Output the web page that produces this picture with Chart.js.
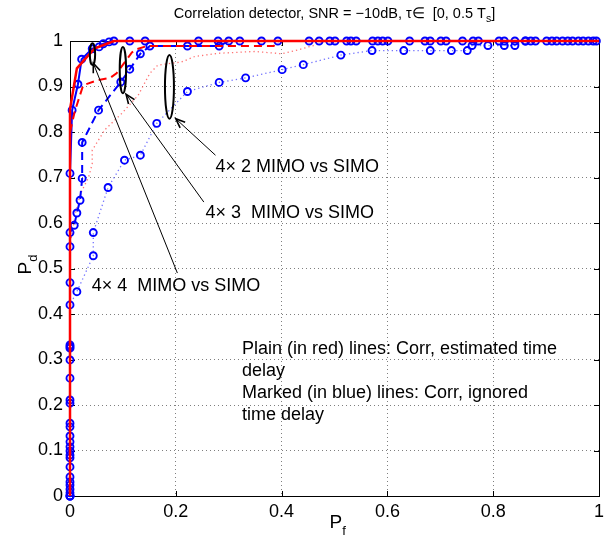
<!DOCTYPE html>
<html><head><meta charset="utf-8">
<script src="https://cdn.jsdelivr.net/npm/chart.js@4/dist/chart.umd.min.js"></script>
<style>html,body{margin:0;padding:0;background:#fff}#wrap{width:613px;height:544px}</style>
</head><body><div id="wrap"><canvas id="c" width="613" height="544"></canvas></div>
<script>
// ---- tick labels ----
const xTickLabels = ['0','0.2','0.4','0.6','0.8','1'];
const yTickLabels = ['0','0.1','0.2','0.3','0.4','0.5','0.6','0.7','0.8','0.9','1'];

// ---- series (Pf, Pd) ----
// Plain red lines: correlation with estimated time delay
const red4x4 = [[0,0],[0,0.85],[0.013,0.94],[0.035,0.969],[0.047,0.984],[0.072,0.995],[0.083,1],[1,1]];
const red4x3 = [[0,0],[0,0.80],[0.009,0.845],[0.025,0.903],[0.053,0.914],[0.076,0.919],[0.088,0.929],[0.104,0.954],[0.117,0.975],[0.126,0.982],[0.146,0.989],[0.385,0.989],[0.395,1],[1,1]];
const red4x2 = [[0,0],[0,0.55],[0.01,0.62],[0.02,0.665],[0.035,0.70],[0.042,0.73],[0.042,0.76],[0.066,0.805],[0.098,0.841],[0.129,0.881],[0.151,0.929],[0.166,0.947],[0.211,0.954],[0.236,0.966],[0.28,0.973],[0.35,0.977],[0.40,0.972],[0.43,0.98],[0.46,0.99],[0.48,1],[1,1]];
// Marked blue lines: correlation ignoring time delay
const blue4x4 = [[0,0],[0,0.007],[0,0.031],[0,0.084],[0,0.099],[0,0.132],[0,0.325],[0,0.709],[0.004,0.848],[0.015,0.905],[0.022,0.96],[0.042,0.983],[0.055,0.987],[0.063,0.994],[0.074,0.998],[0.083,1],
  [0.113,1],[0.142,1],[0.243,1],[0.28,1],[0.321,1],[0.362,1],[0.393,1],[0.452,1],[0.471,1],[0.491,1],[0.501,1],[0.523,1],[0.531,1],[0.541,1],[0.572,1],[0.582,1],[0.591,1],[0.601,1],[0.642,1],[0.671,1],[0.681,1],[0.701,1],[0.711,1],[0.742,1],[0.762,1],[0.772,1],[0.811,1],[0.821,1],[0.841,1],[0.861,1],[0.871,1],[0.88,1],[0.901,1],[0.911,1],[0.92,1],[0.931,1],[0.941,1],[0.95,1],[0.961,1],[0.97,1],[0.98,1],[0.989,1],[0.995,1]];
const blue4x3 = [[0,0],[0,0.015],[0,0.042],[0,0.090],[0,0.119],[0,0.160],[0,0.204],[0,0.259],[0,0.332],[0,0.469],[0,0.548],[0,0.579],[0.008,0.595],[0.013,0.622],[0.019,0.65],[0.023,0.698],[0.023,0.777],[0.054,0.848],[0.096,0.91],[0.113,0.938],[0.133,0.972],[0.151,0.989],[0.222,0.989],[0.282,0.989],[0.30,1]];
const blue4x2 = [[0,0],[0,0.024],[0,0.064],[0,0.108],[0,0.152],[0,0.211],[0,0.299],[0,0.328],[0,0.42],[0.013,0.449],[0.044,0.528],[0.044,0.579],[0.072,0.678],[0.103,0.738],[0.133,0.749],[0.164,0.819],[0.222,0.889],[0.282,0.909],[0.332,0.919],[0.401,0.937],[0.441,0.948],[0.512,0.969],[0.571,0.979],[0.631,0.979],[0.681,0.979],[0.721,0.979],[0.751,0.979],[0.76,0.99],[0.79,0.99],[0.821,0.99],[0.841,0.99],[0.861,1]];

// ---- annotation settings (data coordinates) ----
const ellipses = [ {x:0.0425, y:0.971, rx:0.005, ry:0.024}, {x:0.1, y:0.936, rx:0.006, ry:0.051}, {x:0.188, y:0.899, rx:0.0085, ry:0.07} ];
const labels = [
  {text:'4\u00d7 2 MIMO vs SIMO', x:0.275, y:0.723, arrowFrom:[0.275,0.749], arrowTo:[0.2, 0.829]},
  {text:'4\u00d7 3  MIMO vs SIMO', x:0.256, y:0.623, arrowFrom:[0.253,0.646], arrowTo:[0.106, 0.883]},
  {text:'4\u00d7 4  MIMO vs SIMO', x:0.041, y:0.461, arrowFrom:[0.203,0.49], arrowTo:[0.044, 0.951]}
];
const noteLines = ['Plain (in red) lines: Corr, estimated time','delay','Marked (in blue) lines: Corr, ignored','time delay'];

const toXY = a => a.map(p => ({x:p[0], y:p[1]}));
const FONT = '"Liberation Sans", Arial, Helvetica, sans-serif';

const annot = {
  id:'annot',
  beforeDatasetsDraw(chart){
    const {ctx, chartArea:a, scales:{x, y}} = chart;
    ctx.save();
    ctx.strokeStyle = '#000'; ctx.lineWidth = 1;
    ctx.beginPath();
    xTickLabels.forEach(t => { const px = Math.round(x.getPixelForValue(parseFloat(t)))+0.5;
      ctx.moveTo(px, a.bottom); ctx.lineTo(px, a.bottom-5); ctx.moveTo(px, a.top); ctx.lineTo(px, a.top+5); });
    yTickLabels.forEach(t => { const py = Math.round(y.getPixelForValue(parseFloat(t)))+0.5;
      ctx.moveTo(a.left, py); ctx.lineTo(a.left+5, py); ctx.moveTo(a.right, py); ctx.lineTo(a.right-5, py); });
    ctx.stroke();
    ctx.strokeRect(Math.round(a.left)+0.5, Math.round(a.top)+0.5, Math.round(a.right-a.left), Math.round(a.bottom-a.top));
    ctx.restore();
  },
  afterDatasetsDraw(chart){
    const {ctx, chartArea:a, scales:{x, y}} = chart;
    ctx.save();
    ctx.strokeStyle = '#000'; ctx.lineWidth = 2;
    ellipses.forEach(e => {
      const cx = x.getPixelForValue(e.x), cy = y.getPixelForValue(e.y);
      const rx = Math.abs(x.getPixelForValue(e.x+e.rx)-cx), ry = Math.abs(y.getPixelForValue(e.y+e.ry)-cy);
      ctx.beginPath(); ctx.ellipse(cx, cy, rx, ry, 0, 0, Math.PI*2); ctx.stroke();
    });
    ctx.fillStyle = '#000';
    ctx.font = '18px ' + FONT; ctx.textBaseline = 'middle'; ctx.textAlign = 'left';
    labels.forEach(l => {
      const x0 = x.getPixelForValue(l.arrowFrom[0]), y0 = y.getPixelForValue(l.arrowFrom[1]);
      const x1 = x.getPixelForValue(l.arrowTo[0]), y1 = y.getPixelForValue(l.arrowTo[1]);
      ctx.lineWidth = 1; ctx.beginPath(); ctx.moveTo(x0,y0); ctx.lineTo(x1,y1); ctx.stroke();
      const ang = Math.atan2(y1-y0, x1-x0), L = 10, w = 0.38;
      ctx.lineWidth = 1.6; ctx.beginPath();
      ctx.moveTo(x1 - L*Math.cos(ang-w), y1 - L*Math.sin(ang-w)); ctx.lineTo(x1,y1);
      ctx.lineTo(x1 - L*Math.cos(ang+w), y1 - L*Math.sin(ang+w)); ctx.stroke();
      ctx.fillText(l.text, x.getPixelForValue(l.x), y.getPixelForValue(l.y));
    });
    const nx = x.getPixelForValue(0.325); let ny = y.getPixelForValue(0.323);
    noteLines.forEach(t => { ctx.fillText(t, nx, ny); ny += 22; });
    ctx.restore();
  },
  afterDraw(chart){
    const {ctx, chartArea:a} = chart;
    ctx.save(); ctx.fillStyle = '#000'; ctx.textBaseline = 'alphabetic'; ctx.textAlign = 'left';
    const big = '14.5px ' + FONT, small = '10.5px ' + FONT;
    const t1 = 'Correlation detector, SNR = \u221210dB, \u03c4\u2208  [0, 0.5 T', t2 = 's', t3 = ']';
    ctx.font = big; const w1 = ctx.measureText(t1).width, w3 = ctx.measureText(t3).width;
    ctx.font = small; const w2 = ctx.measureText(t2).width;
    let tx = (a.left + a.right)/2 - (w1+w2+w3)/2; const ty = 18;
    ctx.font = big; ctx.fillText(t1, tx, ty); tx += w1;
    ctx.font = small; ctx.fillText(t2, tx, ty+4); tx += w2;
    ctx.font = big; ctx.fillText(t3, tx, ty);
    ctx.font = '19px ' + FONT; const pw = ctx.measureText('P').width;
    const xl = (a.left + a.right)/2 - 5;
    ctx.fillText('P', xl, 528); ctx.font = '13px ' + FONT; ctx.fillText('f', xl+pw, 535);
    ctx.translate(31, (a.top + a.bottom)/2 + 6); ctx.rotate(-Math.PI/2);
    ctx.font = '19px ' + FONT; ctx.fillText('P', 0, 0); ctx.font = '13px ' + FONT; ctx.fillText('d', pw, 6);
    ctx.restore();
  }
};

const ds = (label, data, color, width, dash, marker) => ({
  label, data: toXY(data), borderColor: color, borderWidth: width, borderDash: dash,
  showLine: true, fill: false, tension: 0, clip: false,
  pointRadius: marker ? 3.5 : 0, pointHoverRadius: 0, pointStyle: 'circle',
  pointBorderColor: '#0000ff', pointBorderWidth: 1.9, pointBackgroundColor: 'rgba(0,0,0,0)'
});

new Chart(document.getElementById('c'), {
  type: 'scatter',
  data: { datasets: [
    ds('4x4 est. delay', red4x4, '#ff0000', 2.5, [], false),
    ds('4x3 est. delay', red4x3, '#ff0000', 2, [8,5], false),
    ds('4x4 ign. delay', blue4x4, '#0000ff', 2, [], true),
    ds('4x3 ign. delay', blue4x3, '#0000ff', 2, [8,5], true),
    ds('4x2 est. delay', red4x2, 'rgba(255,80,80,0.8)', 1.3, [1.3,3], false),
    ds('4x2 ign. delay', blue4x2, 'rgba(80,80,255,0.8)', 1.3, [1.3,3], true)
  ]},
  options: {
    responsive: false, animation: false, devicePixelRatio: 1,
    layout: { padding: { top: 41, right: 14, left: 0, bottom: 0 } },
    plugins: { legend: { display: false }, tooltip: { enabled: false }, title: { display: false } },
    scales: {
      x: { type: 'linear', min: 0, max: 1,
        afterFit: s => { s.height = 48; },
        afterBuildTicks: s => { s.ticks = xTickLabels.map(v => ({value: parseFloat(v)})); },
        ticks: { callback: (v, i) => xTickLabels[i], color: '#000', font: { family: FONT, size: 18 }, padding: 5, maxRotation: 0, autoSkip: false },
        grid: { color: 'rgba(0,0,0,0.5)', lineWidth: 1, drawTicks: false },
        border: { display: false, dash: [1,3] } },
      y: { type: 'linear', min: 0, max: 1,
        afterFit: s => { s.width = 70; },
        afterBuildTicks: s => { s.ticks = yTickLabels.map(v => ({value: parseFloat(v)})); },
        ticks: { callback: (v, i) => yTickLabels[i], color: '#000', font: { family: FONT, size: 18 }, padding: 7, autoSkip: false },
        grid: { color: 'rgba(0,0,0,0.5)', lineWidth: 1, drawTicks: false },
        border: { display: false, dash: [1,3] } }
    }
  },
  plugins: [annot]
});
</script></body></html>
